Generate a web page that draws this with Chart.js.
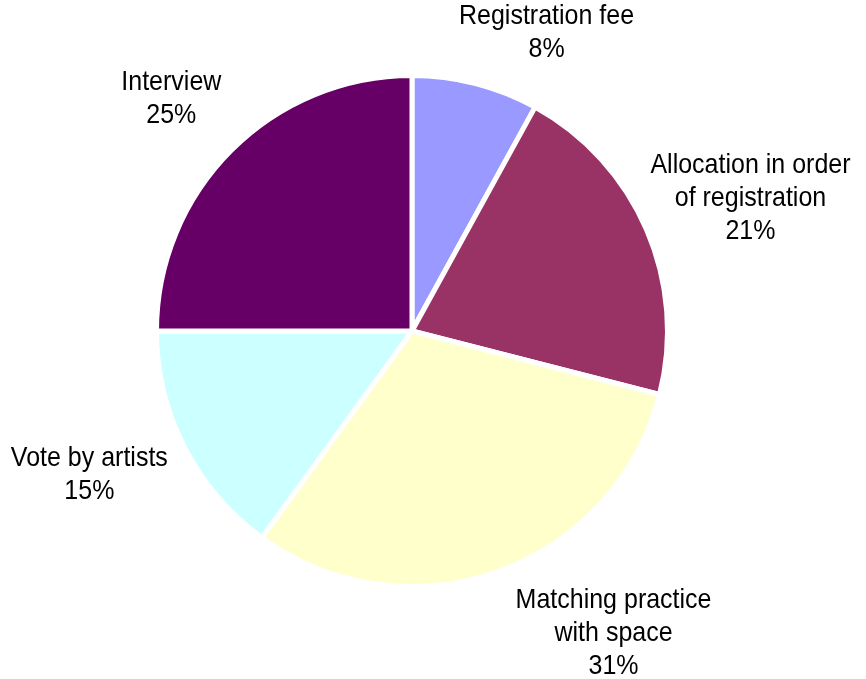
<!DOCTYPE html>
<html>
<head>
<meta charset="utf-8">
<script src="https://cdn.jsdelivr.net/npm/chart.js@4.4.1/dist/chart.umd.min.js"></script>
<style>
  html, body { margin: 0; padding: 0; background: #ffffff; }
  #wrap { width: 866px; height: 679px; position: relative; }
</style>
</head>
<body>
<div id="wrap"><canvas id="chart" width="866" height="679"></canvas></div>
<script>
// Allocation methods, clockwise from 12 o'clock
const categories = [
  ['Registration fee'],
  ['Allocation in order', 'of registration'],
  ['Matching practice', 'with space'],
  ['Vote by artists'],
  ['Interview']
];
const shares = [8, 21, 31, 15, 25];
const sliceColors = ['#9999FF', '#993366', '#FFFFCC', '#CCFFFF', '#660066'];

// Label block offsets from the slice's outer edge at its mid-angle
const labelOffsets = [
  [71, -50],
  [104, -31],
  [115, 62],
  [-95, 28],
  [-60, -51]
];

const outsideLabels = {
  id: 'outsideLabels',
  afterDatasetsDraw(chart) {
    const ctx = chart.ctx;
    const meta = chart.getDatasetMeta(0);
    ctx.save();
    ctx.font = '25px "Liberation Sans", Arial, sans-serif';
    ctx.fillStyle = '#000000';
    ctx.textAlign = 'center';
    ctx.textBaseline = 'middle';
    const lineH = 33;
    meta.data.forEach((arc, i) => {
      const p = arc.getProps(['x', 'y', 'startAngle', 'endAngle', 'outerRadius'], true);
      const mid = (p.startAngle + p.endAngle) / 2;
      const ex = p.x + Math.cos(mid) * p.outerRadius;
      const ey = p.y + Math.sin(mid) * p.outerRadius;
      const cx = ex + labelOffsets[i][0];
      const cy = ey + labelOffsets[i][1];
      const lines = categories[i].concat([shares[i] + '%']);
      const top = cy - (lines.length - 1) * lineH / 2;
      lines.forEach((t, k) => {
        ctx.save();
        ctx.translate(cx, top + k * lineH);
        ctx.scale(1, 1.07);
        ctx.fillText(t, 0, 0);
        ctx.restore();
      });
    });
    ctx.restore();
  }
};

new Chart(document.getElementById('chart'), {
  type: 'pie',
  data: {
    labels: categories.map(c => c.join(' ')),
    datasets: [{
      data: shares,
      backgroundColor: sliceColors,
      borderColor: '#ffffff',
      borderWidth: 5,
      hoverOffset: 0
    }]
  },
  options: {
    responsive: false,
    animation: false,
    layout: { padding: { top: 73, bottom: 90, left: 0, right: 42 } },
    plugins: {
      legend: { display: false },
      tooltip: { enabled: false }
    }
  },
  plugins: [outsideLabels]
});
</script>
</body>
</html>
